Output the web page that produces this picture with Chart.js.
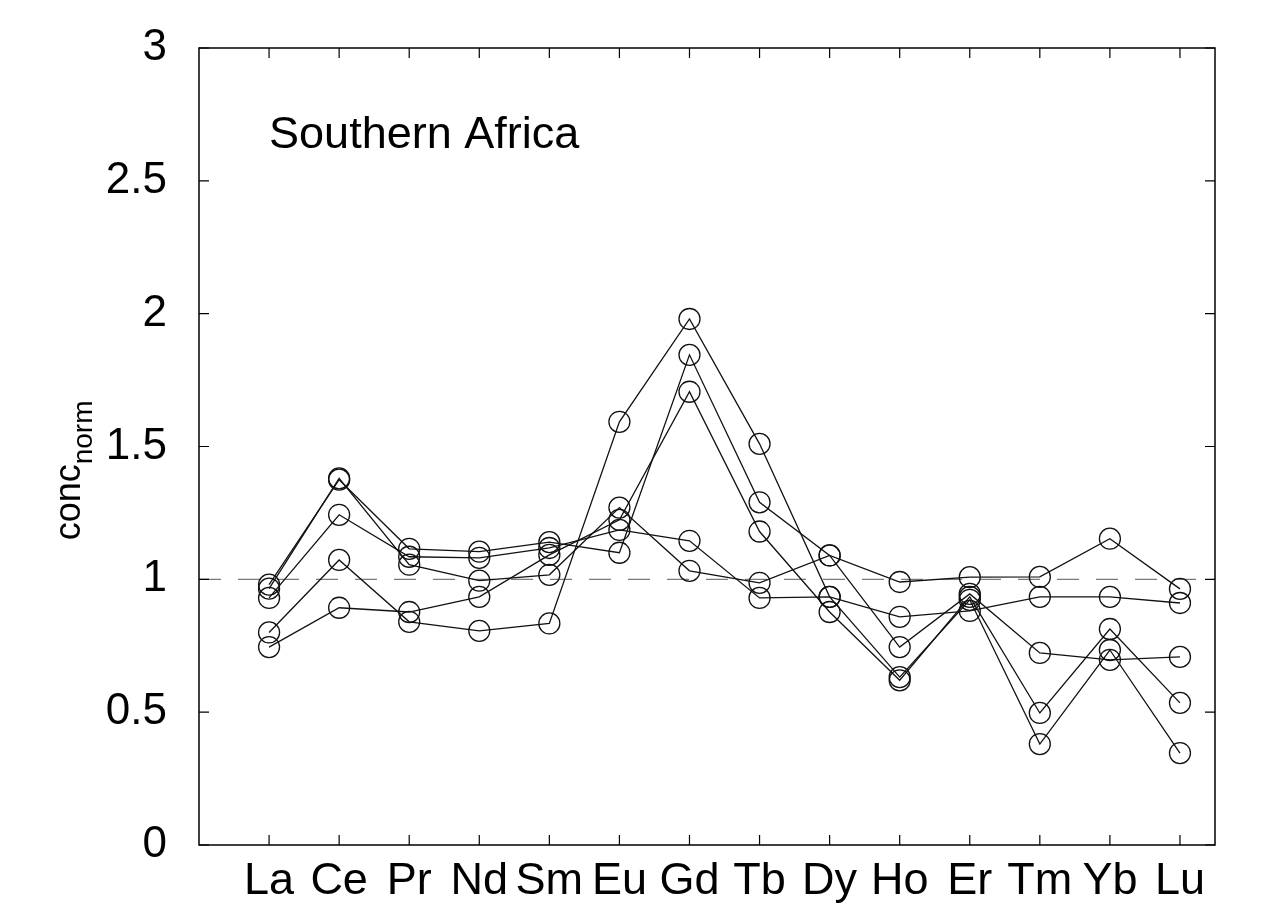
<!DOCTYPE html>
<html>
<head>
<meta charset="utf-8">
<script src="https://cdn.jsdelivr.net/npm/chart.js@4.4.1/dist/chart.umd.min.js"></script>
<style>
  html, body { margin: 0; padding: 0; background: #fff; }
  #wrap { width: 1279px; height: 910px; }
</style>
</head>
<body>
<div id="wrap"><canvas id="chart" width="1279" height="910"></canvas></div>
<script>
// rare earth elements along the x axis
const elements = ["La", "Ce", "Pr", "Nd", "Sm", "Eu", "Gd", "Tb", "Dy", "Ho", "Er", "Tm", "Yb", "Lu"];

// normalised concentrations, one array per sample
const sample1 = [0.98, 1.375, 1.115, 1.104, 1.14, 1.10, 1.845, 1.29, 1.09, 0.745, 0.945, 0.723, 0.697, 0.708];
const sample2 = [0.965, 1.38, 1.055, 0.995, 1.017, 1.27, 1.032, 0.987, 1.09, 0.99, 1.008, 1.009, 1.153, 0.964];
const sample3 = [0.93, 1.243, 1.085, 1.081, 1.118, 1.186, 1.145, 0.93, 0.934, 0.859, 0.881, 0.934, 0.934, 0.911];
const sample4 = [0.80, 1.073, 0.84, 0.806, 0.834, 1.593, 1.98, 1.51, 0.934, 0.632, 0.923, 0.38, 0.734, 0.346];
const sample5 = [0.745, 0.893, 0.877, 0.934, 1.092, 1.224, 1.706, 1.18, 0.877, 0.62, 0.934, 0.497, 0.813, 0.535];

const yTicks = [0, 0.5, 1, 1.5, 2, 2.5, 3];
const referenceLevel = 1;
const panelLabel = "Southern Africa";
const yTitle = "conc";
const yTitleSub = "norm";

const FONT = "'Liberation Sans', Arial, sans-serif";

function toPoints(values) {
  return values.map((v, i) => ({ x: i + 1, y: v }));
}

const samples = [sample1, sample2, sample3, sample4, sample5];
const datasets = samples.map((s, i) => ({
  label: "sample " + (i + 1),
  data: toPoints(s),
  borderColor: "#111",
  borderWidth: 1.3,
  pointRadius: 10.5,
  pointBorderWidth: 1.3,
  pointBorderColor: "#111",
  pointBackgroundColor: "rgba(0,0,0,0)",
  tension: 0,
  order: 1
}));

// dashed line at conc = 1
datasets.push({
  label: "reference",
  data: [{ x: 0, y: referenceLevel }, { x: 14.5, y: referenceLevel }],
  borderColor: "#7a7a7a",
  borderWidth: 1.2,
  borderDash: [22, 17],
  pointRadius: 0,
  order: 2
});

// box, inward tick marks, panel text and y title
const decorations = {
  id: "decorations",
  afterDraw(chart) {
    const ctx = chart.ctx;
    const a = chart.chartArea;
    const xs = chart.scales.x, ys = chart.scales.y;
    const tick = 10;
    ctx.save();
    ctx.strokeStyle = "#000";
    ctx.lineWidth = 1.5;
    ctx.strokeRect(a.left, a.top, a.right - a.left, a.bottom - a.top);
    ctx.lineWidth = 1.2;
    ctx.beginPath();
    elements.forEach((e, i) => {
      const px = xs.getPixelForValue(i + 1);
      ctx.moveTo(px, a.bottom); ctx.lineTo(px, a.bottom - tick);
      ctx.moveTo(px, a.top); ctx.lineTo(px, a.top + tick);
    });
    yTicks.forEach(v => {
      const py = ys.getPixelForValue(v);
      ctx.moveTo(a.left, py); ctx.lineTo(a.left + tick, py);
      ctx.moveTo(a.right, py); ctx.lineTo(a.right - tick, py);
    });
    ctx.stroke();

    ctx.fillStyle = "#000";
    ctx.font = "45px " + FONT;
    ctx.textBaseline = "alphabetic";
    ctx.textAlign = "left";
    ctx.fillText(panelLabel, xs.getPixelForValue(1), ys.getPixelForValue(2.625));

    // rotated y title with subscript
    ctx.translate(80, ys.getPixelForValue(1.41));
    ctx.rotate(-Math.PI / 2);
    ctx.font = "36px " + FONT;
    const w = ctx.measureText(yTitle).width;
    ctx.font = "28px " + FONT;
    const ws = ctx.measureText(yTitleSub).width;
    const start = -(w + ws) / 2;
    ctx.font = "36px " + FONT;
    ctx.fillText(yTitle, start, 0);
    ctx.font = "28px " + FONT;
    ctx.fillText(yTitleSub, start + w, 12);
    ctx.restore();
  }
};

new Chart(document.getElementById("chart"), {
  type: "line",
  data: { datasets: datasets },
  options: {
    responsive: false,
    animation: false,
    devicePixelRatio: 1,
    layout: { padding: { top: 48, right: 64, left: 0, bottom: 0 } },
    plugins: { legend: { display: false }, tooltip: { enabled: false } },
    scales: {
      x: {
        type: "linear",
        min: 0,
        max: 14.5,
        afterBuildTicks: s => { s.ticks = elements.map((e, i) => ({ value: i + 1 })); },
        afterFit: s => { s.height = 65; s.paddingLeft = 0; s.paddingRight = 0; },
        ticks: {
          callback: v => elements[v - 1],
          font: { family: FONT, size: 45 },
          color: "#000",
          padding: 2,
          maxRotation: 0,
          autoSkip: false
        },
        grid: { display: false },
        border: { display: false }
      },
      y: {
        min: 0,
        max: 3,
        afterBuildTicks: s => { s.ticks = yTicks.map(v => ({ value: v })); },
        afterFit: s => { s.width = 199; s.paddingTop = 0; s.paddingBottom = 0; },
        ticks: {
          callback: v => String(v),
          font: { family: FONT, size: 44 },
          color: "#000",
          padding: 24
        },
        grid: { display: false },
        border: { display: false }
      }
    }
  },
  plugins: [decorations]
});
</script>
</body>
</html>
